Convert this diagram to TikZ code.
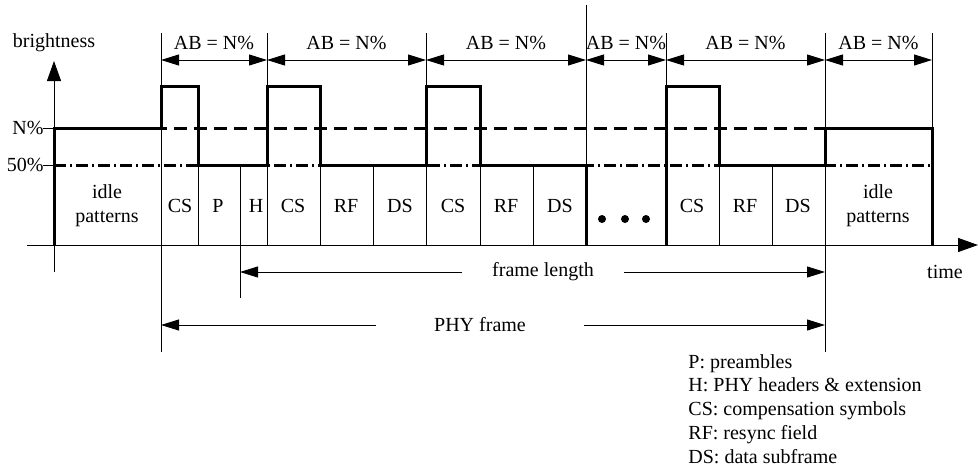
\documentclass[tikz,border=0pt]{standalone}
\usepackage{fontspec}
\setmainfont{Liberation Serif}
\usetikzlibrary{arrows.meta}

\begin{document}
\begin{tikzpicture}[
  x=0.5pt, y=-0.5pt,
  every node/.style={font=\normalsize, inner sep=1pt},
  sig/.style={line width=1.5pt, line join=miter},
  thinline/.style={line width=0.5pt},
  reflevel/.style={line width=1.5pt},
  dim/.style={line width=0.5pt, {Triangle[length=9pt, width=5.5pt]}-{Triangle[length=9pt, width=5.5pt]}},
  arrow/.style={line width=0.5pt, -{Triangle[length=9pt, width=5.5pt]}},
  axisarrow/.style={line width=0.5pt, -{Triangle[length=10pt, width=7pt]}},
  cell/.style={align=center}
]
\useasboundingbox (0,0) rectangle (978,471);

% axes
\draw[axisarrow] (27,245) -- (978,245) coordinate (tend);
\draw[axisarrow] (54,272) -- (54,61) coordinate (bend);
\node (blab) at (54,43) {brightness};
\node (tlab) at (945,272) {time};

% reference levels
\draw[thinline] (43,128) -- (54,128);
\draw[thinline] (43,165) -- (54,165);
\node[anchor=east] (nlev) at (46,128) {N\%};
\node[anchor=east] (hlev) at (46,165) {50\%};
\draw[reflevel, dash pattern=on 6.5pt off 3.5pt] (54,128) -- (932,128);
\draw[reflevel, dash pattern=on 6pt off 2pt on 1pt off 2pt] (54,165) -- (932,165);

% field borders
\foreach \x in {161, 825}
  \draw[thinline] (\x,33) -- (\x,352);
\foreach \x in {267, 426, 666, 932}
  \draw[thinline] (\x,33) -- (\x,245);
\draw[thinline] (586,5) -- (586,245);
\foreach \x in {198, 320, 373, 480, 533, 719, 772}
  \draw[thinline] (\x,165) -- (\x,245);
\draw[thinline] (240,165) -- (240,298);

% brightness signal
\draw[sig] (54,245) -- (54,128) -- (161,128) -- (161,86) -- (198,86) -- (198,165)
  -- (267,165) -- (267,86) -- (320,86) -- (320,165) -- (426,165) -- (426,86)
  -- (480,86) -- (480,165) -- (586,165) -- (586,245);
\draw[sig] (666,245) -- (666,86) -- (719,86) -- (719,165) -- (825,165)
  -- (825,128) -- (932,128) -- (932,245);

% field names
\node[cell] (idle0) at (107,206) {idle\\patterns};
\node[cell] (idle1) at (878,206) {idle\\patterns};
\foreach \x/\t [count=\i] in {180/CS, 218/P, 256/H, 293/CS, 346/RF, 400/DS,
    453/CS, 506/RF, 560/DS, 692/CS, 745/RF, 798/DS}
  \node (f\i) at (\x,206) {\t};
\foreach \x in {602, 625, 646}
  \fill (\x,219) circle (2pt);

% AB periods
\foreach \a/\b [count=\i] in {161/267, 267/426, 426/586, 586/666, 666/825, 825/932} {
  \coordinate (p\i a) at (\a,60);
  \coordinate (p\i b) at (\b,60);
  \draw[dim] (p\i a) -- (p\i b) node[midway, yshift=8.5pt] (ab\i) {AB = N\%};
}

% frame spans
\coordinate (fl0) at (240,272);
\coordinate (fl1) at (825,272);
\node[inner xsep=15pt] (flen) at (543,272) {frame length};
\draw[arrow] (flen.west) -- (fl0);
\draw[arrow] (flen.east) -- (fl1);

\coordinate (ph0) at (161,325);
\coordinate (ph1) at (825,325);
\node[inner xsep=29pt] (phy) at (480,325) {PHY frame};
\draw[arrow] (phy.west) -- (ph0);
\draw[arrow] (phy.east) -- (ph1);

% abbreviations
\foreach \t [count=\i from 0] in {P: preambles, H: PHY headers \& extension,
    CS: compensation symbols, RF: resync field, DS: data subframe}
  \node[anchor=base west] (key\i) at (686,{368+23.75*\i}) {\t};
\end{tikzpicture}
\end{document}
